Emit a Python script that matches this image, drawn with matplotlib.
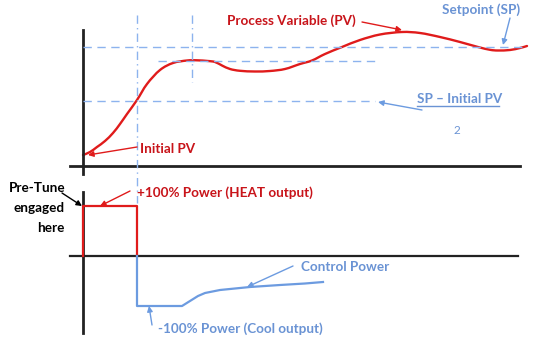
import matplotlib
matplotlib.use("Agg")
import matplotlib.pyplot as plt
from matplotlib.path import Path
from matplotlib.patches import PathPatch

# Process variable trace (x, y in drawing units, y grows downward)
pv_x = [83, 90, 97, 105, 113, 120, 127, 137, 147, 160, 173, 187, 197,
        208, 215, 222, 230, 240, 255, 270, 285, 300, 312, 325, 342, 360, 380, 402,
        420, 440, 460, 478, 490, 498, 510, 520, 527]
pv_y = [155, 152, 147, 141, 133, 124, 114, 100, 84, 70, 63, 60.5, 60.3,
        61, 62, 65.5, 69, 70.8, 71.5, 71, 69, 64, 60.5, 54, 47, 40, 34.5, 32,
        33, 37, 42, 47, 49.8, 50.5, 50, 48, 46]

# Heat output during pre-tune
heat_x = [83, 83, 137, 137]
heat_y = [256, 206, 206, 256]

# Cool / control power output afterwards
cool_x = [137, 137, 182, 190, 198, 205, 220, 250, 280, 305, 323]
cool_y = [256, 306, 306, 301, 296, 293, 290, 287, 285, 283.5, 282]

RED = "#e01b1b"
BLUE = "#6c9be0"
DASH = "#8db3ee"
TXT_BLUE = "#6a93d4"
DARK_RED = "#c8141a"

fig = plt.figure(figsize=(5.35, 3.43), dpi=100)
ax = fig.add_axes([0, 0, 1, 1])
ax.set_xlim(0, 535)
ax.set_ylim(343, 0)
ax.axis("off")

FONT = ["Lato", "DejaVu Sans"]
FS = 9.7


def smooth_path(xs, ys):
    """Catmull-Rom spline through the points, expressed as cubic Bezier segments."""
    pts = list(zip(xs, ys))
    verts = [pts[0]]
    codes = [Path.MOVETO]
    n = len(pts)
    for i in range(n - 1):
        p0 = pts[i - 1] if i > 0 else pts[i]
        p1 = pts[i]
        p2 = pts[i + 1]
        p3 = pts[i + 2] if i + 2 < n else pts[i + 1]
        c1 = (p1[0] + (p2[0] - p0[0]) / 6, p1[1] + (p2[1] - p0[1]) / 6)
        c2 = (p2[0] - (p3[0] - p1[0]) / 6, p2[1] - (p3[1] - p1[1]) / 6)
        verts += [c1, c2, p2]
        codes += [Path.CURVE4] * 3
    return Path(verts, codes)


# axes of the two panels
ax.plot([83, 83], [30, 174], color="#222222", lw=2)
ax.plot([70, 520], [166, 166], color="#222222", lw=2)
ax.plot([83, 83], [192, 333], color="#222222", lw=2)
ax.plot([70, 518], [256, 256], color="#222222", lw=1.6)

# reference lines
ax.plot([83, 526], [47, 47], color=DASH, lw=1, ls=(0, (6, 4)))
ax.plot([158, 380], [61, 61], color=DASH, lw=1, ls=(0, (6, 4)))
ax.plot([83, 375], [101, 101], color=DASH, lw=1, ls=(0, (6, 4)))
ax.plot([137, 137], [15, 203], color=DASH, lw=1, ls=(0, (6, 3, 1, 3)))
ax.plot([192, 192], [15, 82], color=DASH, lw=1, ls=(0, (6, 3, 1, 3)))

# traces
ax.add_patch(PathPatch(smooth_path(pv_x, pv_y), facecolor="none",
                       edgecolor=RED, lw=1.7, capstyle="round"))
ax.plot(heat_x, heat_y, color=RED, lw=1.6)
ax.plot(cool_x, cool_y, color=BLUE, lw=1.6)


def arrow(x0, y0, x1, y1, color):
    ax.annotate("", xy=(x1, y1), xytext=(x0, y0),
                arrowprops=dict(arrowstyle="-|>", color=color, lw=1,
                                mutation_scale=8, shrinkA=0, shrinkB=0))


# labels
ax.text(227, 21, "Process Variable (PV)", color=DARK_RED, fontsize=FS,
        fontweight="bold", family=FONT, va="center", ha="left")
arrow(362, 22, 402, 30, RED)

ax.text(442, 10, "Setpoint (SP)", color=TXT_BLUE, fontsize=FS,
        fontweight="bold", family=FONT, va="center", ha="left")
arrow(510, 18, 503, 45, BLUE)

ax.text(417, 99, "SP \u2013 Initial PV", color=TXT_BLUE, fontsize=FS,
        fontweight="bold", family=FONT, va="center", ha="left")
ax.plot([417, 499], [106, 106], color=TXT_BLUE, lw=1)
arrow(422, 110, 378, 102, BLUE)

ax.text(457, 131, "2", color=TXT_BLUE, fontsize=8.5, family=FONT,
        va="center", ha="center")

ax.text(140, 149, "Initial PV", color=DARK_RED, fontsize=FS,
        fontweight="bold", family=FONT, va="center", ha="left")
arrow(137, 147, 88, 155, RED)

ax.text(65, 208, "Pre-Tune\nengaged\nhere", color="black", fontsize=FS,
        fontweight="bold", family=FONT, va="center", ha="right",
        linespacing=1.75)
arrow(62, 193, 82, 206, "black")

ax.text(137, 193, "+100% Power (HEAT output)", color=DARK_RED, fontsize=FS,
        fontweight="bold", family=FONT, va="center", ha="left")
arrow(130, 191, 100, 206, RED)

ax.text(158, 329, "-100% Power (Cool output)", color=TXT_BLUE, fontsize=FS,
        fontweight="bold", family=FONT, va="center", ha="left")
arrow(152, 325, 149, 306, BLUE)

ax.text(301, 267, "Control Power", color=TXT_BLUE, fontsize=FS,
        fontweight="bold", family=FONT, va="center", ha="left")
arrow(293, 266, 247, 287, BLUE)

fig.savefig("out.png", dpi=100)
